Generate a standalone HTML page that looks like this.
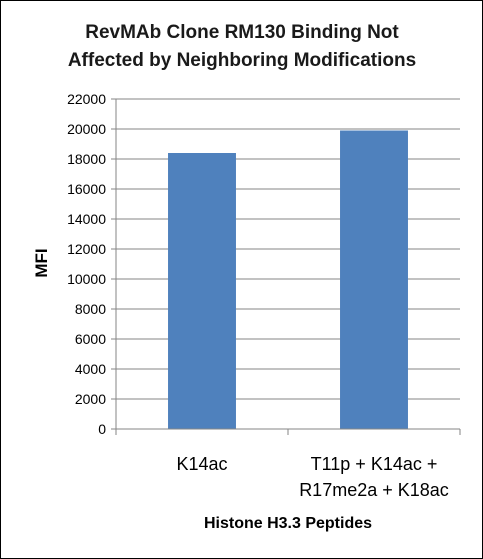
<!DOCTYPE html>
<html><head><meta charset="utf-8"><style>
body{margin:0;background:#fff}
svg{display:block;font-family:"Liberation Sans",sans-serif}
</style></head><body>
<svg width="483" height="559">
<rect x="0.5" y="0.5" width="482" height="558" fill="#fff" stroke="#000"/>
<text x="242" y="62" text-anchor="middle" font-size="19" font-weight="bold" fill="#1a1a1a"><tspan x="242" y="38">RevMAb Clone RM130 Binding Not</tspan><tspan x="242" y="66">Affected by Neighboring Modifications</tspan></text>
<g id="grid"></g><g id="bars"></g><g id="axes"></g>
<text transform="translate(47,263) rotate(-90)" text-anchor="middle" font-size="17" font-weight="bold">MFI</text>
<text x="288" y="528" text-anchor="middle" font-size="16" font-weight="bold">Histone H3.3 Peptides</text>
</svg>
<script>
const categories=[["K14ac"],["T11p + K14ac +","R17me2a + K18ac"]];
const values=[18400,19900];
const ticks=[0,2000,4000,6000,8000,10000,12000,14000,16000,18000,20000,22000];
const NS="http://www.w3.org/2000/svg";
const x0=116,x1=460,y0=429,yMax=22000,yTop=99;
const y=v=>y0-(v/yMax)*(y0-yTop);
const cw=(x1-x0)/categories.length;
function mk(t,a,p){const e=document.createElementNS(NS,t);for(const k in a)e.setAttribute(k,a[k]);p.appendChild(e);return e;}
const g=document.getElementById('grid'),b=document.getElementById('bars'),ax=document.getElementById('axes');
ticks.forEach(t=>{
 if(t>0){const l=mk('line',{x1:x0,x2:x1,y1:y(t),y2:y(t),stroke:'#868686','stroke-width':1},g);
 
 }
 const tx=mk('text',{x:x0-10,y:y(t)+5,'text-anchor':'end','font-size':14,fill:'#000'},ax);
 tx.textContent=t;
 
 
 const tk=mk('line',{x1:x0-5,x2:x0,y1:y(t),y2:y(t),stroke:'#868686'},ax);
 
 
});
values.forEach((v,i)=>{
 const bw=cw*0.395,cx=x0+cw*(i+0.5);
 const r=mk('rect',{x:cx-bw/2,y:y(v),width:bw,height:y0-y(v),fill:'#4f81bd'},b);
 
 
 categories[i].forEach((s,j)=>{
  const t=mk('text',{x:cx,y:470+j*26,'text-anchor':'middle','font-size':18},ax);
  t.textContent=s;
  
  
 });
});
for(let i=0;i<=categories.length;i++){const xx=x0+cw*i;
 const tk=mk('line',{x1:xx,x2:xx,y1:y0,y2:y0+6,stroke:'#868686'},ax);
 
 }
const ya=mk('line',{x1:x0,x2:x0,y1:yTop,y2:y0,stroke:'#868686'},ax);


const xa=mk('line',{x1:x0,x2:x1,y1:y0,y2:y0,stroke:'#868686'},ax);


</script>
</body></html>
